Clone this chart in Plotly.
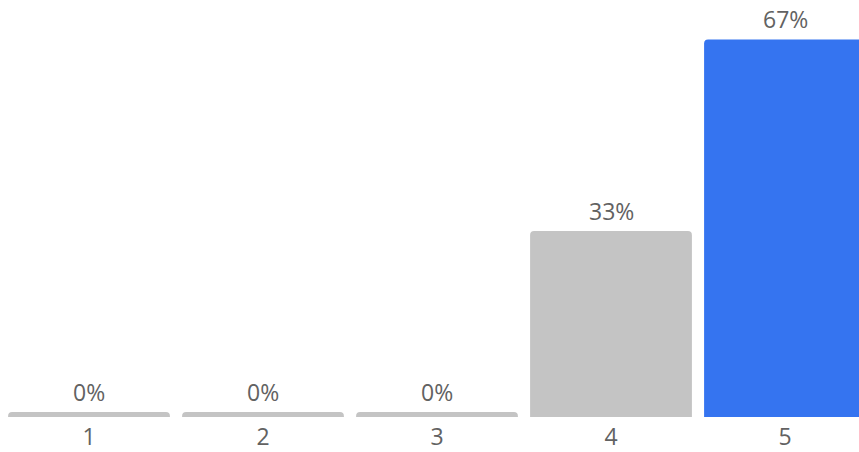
import plotly.graph_objects as go

categories = ["1", "2", "3", "4", "5"]
values = [0, 0, 0, 33, 67]
labels = ["0%", "0%", "0%", "33%", "67%"]
highlight = "5"

GRAY = "#C4C4C4"
BLUE = "#3574F0"
TEXT = "#626262"
MIN_VISIBLE = 0.9  # minimum drawn height (in %) so empty bars remain visible

x_pos = list(range(1, len(categories) + 1))
drawn = [max(v, MIN_VISIBLE) for v in values]
colors = [BLUE if c == highlight else GRAY for c in categories]

fig = go.Figure()
fig.add_trace(go.Bar(
    x=x_pos, y=drawn, width=0.93,
    marker=dict(color=colors, line=dict(width=0)),
    hoverinfo="skip", cliponaxis=False,
))

for xp, d, lab in zip(x_pos, drawn, labels):
    fig.add_annotation(x=xp, y=d, xref="x", yref="y", text=lab, showarrow=False,
                       yanchor="bottom", yshift=2,
                       font=dict(family="Open Sans", size=23, color=TEXT))

fig.update_layout(
    width=859, height=452,
    margin=dict(l=2, r=0, t=0, b=35),
    paper_bgcolor="white", plot_bgcolor="white",
    barcornerradius=4,
    showlegend=False,
    xaxis=dict(range=[0.5, 0.5 + 857 / 174], tickvals=x_pos, ticktext=categories,
               showgrid=False, zeroline=False, showline=False, ticks="",
               ticklabelstandoff=4,
               tickfont=dict(family="Open Sans", size=23, color=TEXT)),
    yaxis=dict(range=[0, 74], visible=False, fixedrange=True),
)

fig.write_html("out.html")
